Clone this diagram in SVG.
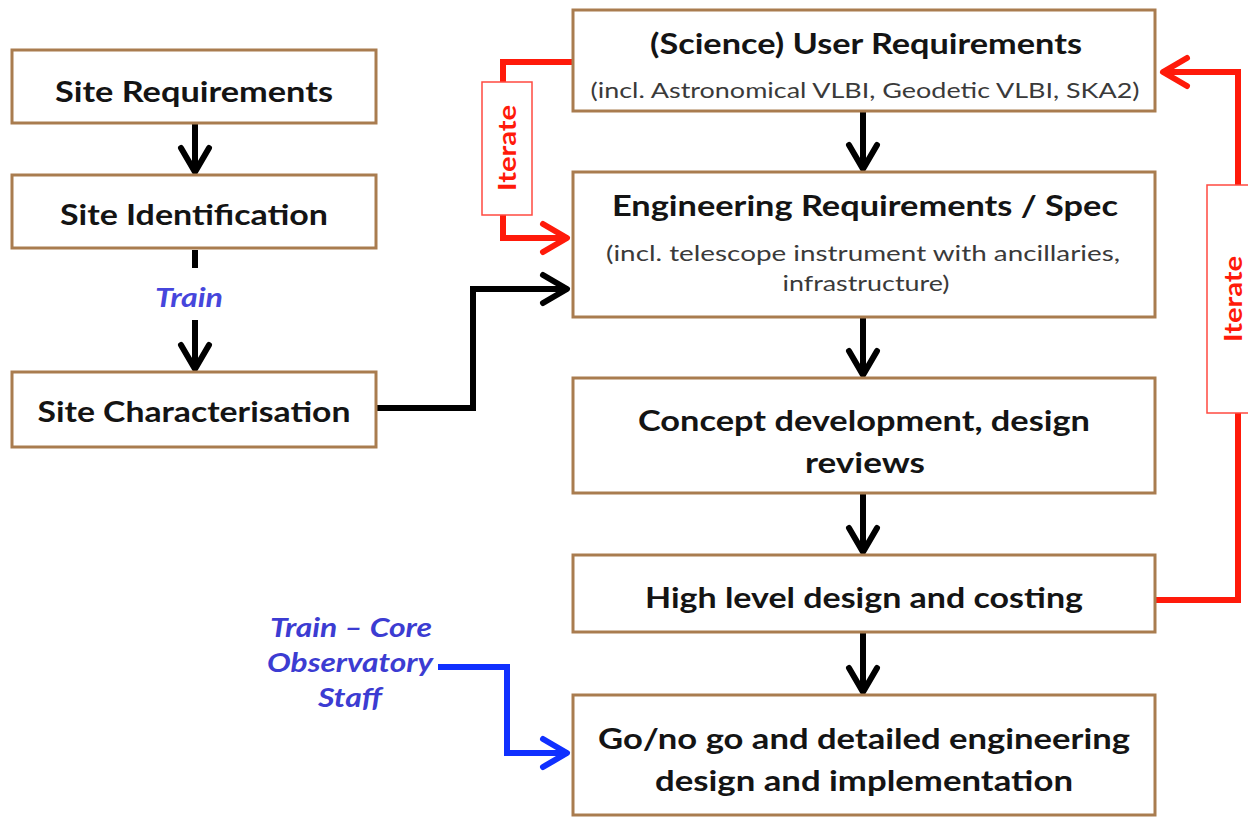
<svg xmlns="http://www.w3.org/2000/svg" width="1248" height="818" viewBox="0 0 1248 818">
  <style>
    .box { fill: #ffffff; stroke: #a97c4f; stroke-width: 3; }
    .title { font-family: Lato, "Liberation Sans", sans-serif; font-weight: bold; font-size: 29px; fill: #141414; text-anchor: middle; }
    .sub { font-family: Lato, "Liberation Sans", sans-serif; font-size: 22px; fill: #3a3a3a; text-anchor: middle; }
    .blue { font-family: Lato, "Liberation Sans", sans-serif; font-weight: bold; font-style: italic; font-size: 26px; fill: #3c3cd2; text-anchor: middle; }
    .iter { font-family: Lato, "Liberation Sans", sans-serif; font-weight: bold; font-size: 25px; fill: #ff1a0a; text-anchor: middle; }
    .iterbox { fill: #ffffff; stroke: #ff4a40; stroke-width: 1.5; }
    .k { fill: none; stroke: #000000; stroke-width: 6; stroke-linejoin: miter; }
    .r { fill: none; stroke: #ff1a0a; stroke-width: 6; }
    .b { fill: none; stroke: #1030ff; stroke-width: 6; }
  </style>
  <defs>
    <marker id="ah-k" markerUnits="userSpaceOnUse" markerWidth="60" markerHeight="60" refX="0" refY="0" orient="auto" overflow="visible">
      <path d="M-24,-14 L0,0 L-24,14" fill="none" stroke="#000000" stroke-width="6" stroke-linecap="round" stroke-linejoin="round"/>
    </marker>
    <marker id="ah-r" markerUnits="userSpaceOnUse" markerWidth="60" markerHeight="60" refX="0" refY="0" orient="auto" overflow="visible">
      <path d="M-24,-14 L0,0 L-24,14" fill="none" stroke="#ff1a0a" stroke-width="6" stroke-linecap="round" stroke-linejoin="round"/>
    </marker>
    <marker id="ah-b" markerUnits="userSpaceOnUse" markerWidth="60" markerHeight="60" refX="0" refY="0" orient="auto" overflow="visible">
      <path d="M-24,-14 L0,0 L-24,14" fill="none" stroke="#1030ff" stroke-width="6" stroke-linecap="round" stroke-linejoin="round"/>
    </marker>
  </defs>

  <rect width="1248" height="818" fill="#ffffff"/>

  <!-- connectors -->
  <g id="connectors">
    <!-- site chain -->
    <path class="k" d="M195,123 L195,172" marker-end="url(#ah-k)"/>
    <path class="k" d="M195,250 L195,268"/>
    <path class="k" d="M195,320 L195,369" marker-end="url(#ah-k)"/>
    <path class="k" d="M377,408 L473,408 L473,289 L567,289" marker-end="url(#ah-k)"/>
    <!-- main design chain -->
    <path class="k" d="M863,112 L863,169" marker-end="url(#ah-k)"/>
    <path class="k" d="M863,318 L863,375" marker-end="url(#ah-k)"/>
    <path class="k" d="M863,494 L863,552" marker-end="url(#ah-k)"/>
    <path class="k" d="M863,633 L863,692" marker-end="url(#ah-k)"/>
    <!-- iteration loops -->
    <path class="r" d="M574,62 L503,62 L503,238 L567,238" marker-end="url(#ah-r)"/>
    <path class="r" d="M1155,600 L1238,600 L1238,72 L1163,72" marker-end="url(#ah-r)"/>
    <!-- staff training -->
    <path class="b" d="M438,667 L507,667 L507,753 L567,753" marker-end="url(#ah-b)"/>
  </g>

  <!-- iterate labels sit on top of the red loops -->
  <g id="iterate-left">
    <rect class="iterbox" x="482" y="82" width="50" height="133"/>
    <text class="iter" transform="translate(516,148) rotate(-90)" textLength="86" lengthAdjust="spacingAndGlyphs">Iterate</text>
  </g>
  <g id="iterate-right">
    <rect class="iterbox" x="1207" y="185" width="50" height="228"/>
    <text class="iter" transform="translate(1242,299) rotate(-90)" textLength="86" lengthAdjust="spacingAndGlyphs">Iterate</text>
  </g>

  <!-- site track -->
  <g id="site-requirements">
    <rect class="box" x="12" y="50" width="364" height="73"/>
    <text class="title" x="194" y="102" textLength="278" lengthAdjust="spacingAndGlyphs">Site Requirements</text>
  </g>
  <g id="site-identification">
    <rect class="box" x="12" y="175" width="364" height="73"/>
    <text class="title" x="194" y="225" textLength="268" lengthAdjust="spacingAndGlyphs">Site Identification</text>
  </g>
  <g id="train-label">
    <text class="blue" x="189" y="307" font-size="24" textLength="68" lengthAdjust="spacingAndGlyphs" style="fill:#4646dc">Train</text>
  </g>
  <g id="site-characterisation">
    <rect class="box" x="12" y="372" width="364" height="75"/>
    <text class="title" x="194" y="422" textLength="313" lengthAdjust="spacingAndGlyphs">Site Characterisation</text>
  </g>

  <!-- design track -->
  <g id="user-requirements">
    <rect class="box" x="573" y="10" width="582" height="101"/>
    <text class="title" x="866" y="54" textLength="432" lengthAdjust="spacingAndGlyphs">(Science) User Requirements</text>
    <text class="sub" x="865" y="98" textLength="549" lengthAdjust="spacingAndGlyphs">(incl. Astronomical VLBI, Geodetic VLBI, SKA2)</text>
  </g>
  <g id="engineering-requirements">
    <rect class="box" x="573" y="172" width="582" height="145"/>
    <text class="title" x="865" y="216" textLength="506" lengthAdjust="spacingAndGlyphs">Engineering Requirements / Spec</text>
    <text class="sub" x="863" y="261" textLength="514" lengthAdjust="spacingAndGlyphs">(incl. telescope instrument with ancillaries,</text>
    <text class="sub" x="866" y="291" textLength="167" lengthAdjust="spacingAndGlyphs">infrastructure)</text>
  </g>
  <g id="concept-development">
    <rect class="box" x="573" y="378" width="582" height="115"/>
    <text class="title" x="864" y="431" textLength="452" lengthAdjust="spacingAndGlyphs">Concept development, design</text>
    <text class="title" x="865" y="473" textLength="120" lengthAdjust="spacingAndGlyphs">reviews</text>
  </g>
  <g id="high-level-design">
    <rect class="box" x="573" y="555" width="582" height="77"/>
    <text class="title" x="864" y="608" textLength="438" lengthAdjust="spacingAndGlyphs">High level design and costing</text>
  </g>
  <g id="go-no-go">
    <rect class="box" x="573" y="695" width="582" height="120"/>
    <text class="title" x="864" y="749" textLength="532" lengthAdjust="spacingAndGlyphs">Go/no go and detailed engineering</text>
    <text class="title" x="864" y="791" textLength="418" lengthAdjust="spacingAndGlyphs">design and implementation</text>
  </g>

  <!-- staff training note -->
  <g id="core-staff-label">
    <text class="blue" x="351" y="637" textLength="162" lengthAdjust="spacingAndGlyphs">Train – Core</text>
    <text class="blue" x="350" y="672" textLength="166" lengthAdjust="spacingAndGlyphs">Observatory</text>
    <text class="blue" x="350" y="707" textLength="64" lengthAdjust="spacingAndGlyphs">Staff</text>
  </g>
</svg>
